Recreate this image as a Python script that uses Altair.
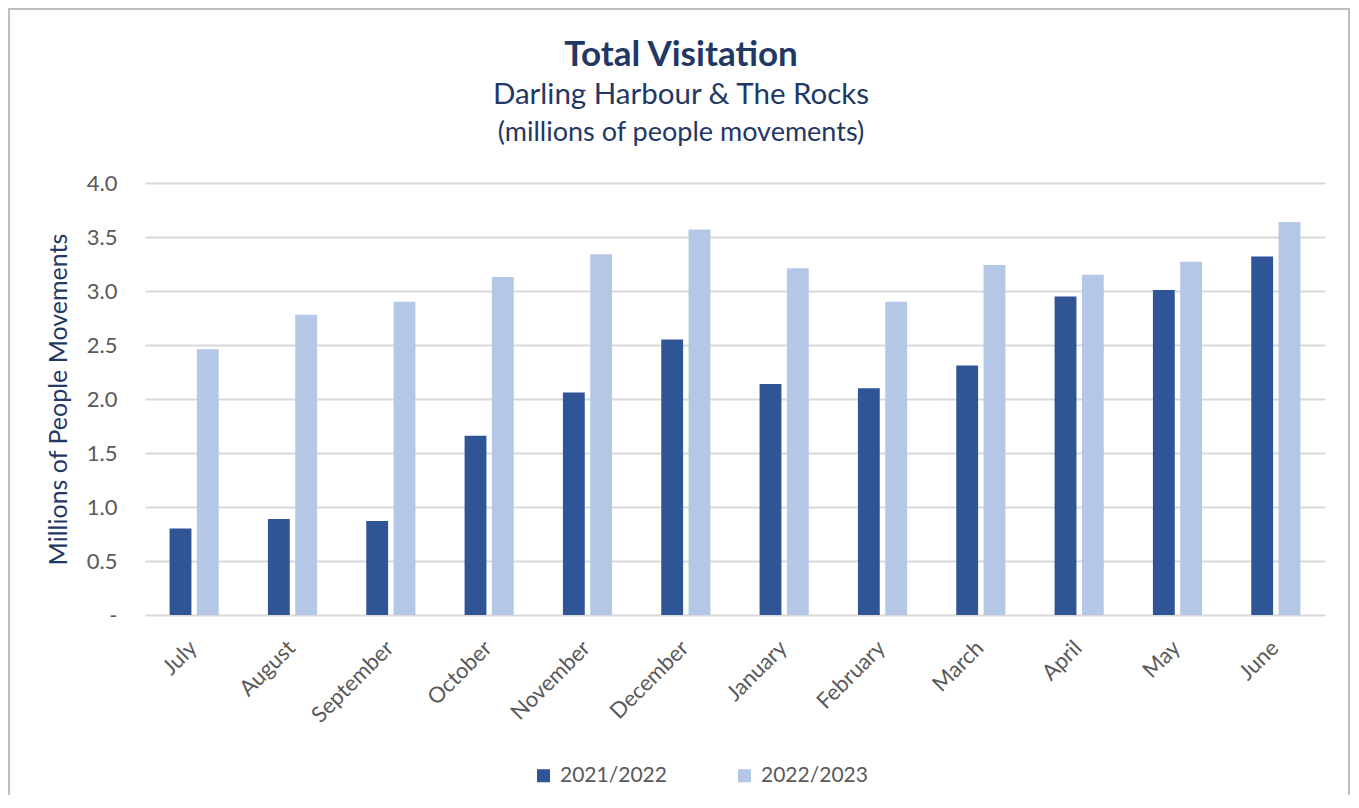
import altair as alt
import pandas as pd

months = ["July", "August", "September", "October", "November", "December",
          "January", "February", "March", "April", "May", "June"]
series = ["2021/2022", "2022/2023"]
values_2122 = [0.80, 0.89, 0.87, 1.66, 2.06, 2.55, 2.14, 2.10, 2.31, 2.95, 3.01, 3.32]
values_2223 = [2.46, 2.78, 2.90, 3.13, 3.34, 3.57, 3.21, 2.90, 3.24, 3.15, 3.27, 3.64]
y_ticks = [0, 0.5, 1.0, 1.5, 2.0, 2.5, 3.0, 3.5, 4.0]
title_text = "Total Visitation"
subtitle_lines = ["Darling Harbour & The Rocks", "(millions of people movements)"]

rows = []
for m, a, b in zip(months, values_2122, values_2223):
    rows.append({"month": m, "series": series[0], "value": a})
    rows.append({"month": m, "series": series[1], "value": b})
df = pd.DataFrame(rows)

NAVY = "#1F3864"
GREY = "#595959"

bars = alt.Chart(df).mark_bar().encode(
    x=alt.X("month:N", sort=months,
            scale=alt.Scale(paddingInner=0.5, paddingOuter=0.25),
            axis=alt.Axis(title=None, labelAngle=-45, labelFontSize=22,
                          labelColor=GREY, labelPadding=22, labelOffset=-8,
                          domain=False, ticks=False, grid=False)),
    xOffset=alt.XOffset("series:N", sort=series,
                        scale=alt.Scale(paddingInner=0.2, paddingOuter=0)),
    y=alt.Y("value:Q", scale=alt.Scale(domain=[0, 4], nice=False),
            axis=alt.Axis(title="Millions of People Movements", values=y_ticks,
                          labelExpr="datum.value == 0 ? '-' : format(datum.value, '.1f')",
                          labelFontSize=22, labelColor=GREY, labelPadding=28,
                          titleFontSize=25, titleColor=NAVY, titleFontWeight="normal",
                          titlePadding=15, domain=False, ticks=False,
                          gridColor="#D9D9D9", gridWidth=2)),
    color=alt.Color("series:N", sort=series,
                    scale=alt.Scale(domain=series, range=["#2F5597", "#B4C7E7"]),
                    legend=alt.Legend(title=None, orient="none", legendX=388, legendY=582,
                                      direction="horizontal", symbolType="square",
                                      symbolSize=169, symbolStrokeWidth=0,
                                      labelFontSize=21, labelColor=GREY,
                                      labelOffset=6, columnPadding=67)),
)

one = alt.Data(values=[{"f": 1}])

frame = alt.Chart(one).mark_rect(
    filled=False, stroke="#BFBFBF", strokeWidth=2
).encode(
    x=alt.value(-136), x2=alt.value(1204),
    y=alt.value(-174), y2=alt.value(700),
)

title_mark = alt.Chart(one).mark_text(
    text=title_text, fontSize=35, fontWeight="bold", color=NAVY,
    align="center", baseline="alphabetic"
).encode(x=alt.value(536), y=alt.value(-117))

sub1 = alt.Chart(one).mark_text(
    text=subtitle_lines[0], fontSize=29.5, color=NAVY,
    align="center", baseline="alphabetic"
).encode(x=alt.value(536), y=alt.value(-79))

sub2 = alt.Chart(one).mark_text(
    text=subtitle_lines[1], fontSize=27, color=NAVY,
    align="center", baseline="alphabetic"
).encode(x=alt.value(536), y=alt.value(-42))

chart = alt.layer(frame, title_mark, sub1, sub2, bars).properties(
    width=1180, height=432,
    autosize=alt.AutoSizeParams(type="none"),
    padding={"left": 137, "top": 175, "right": 26, "bottom": 180},
).configure(font="Lato").configure_view(stroke=None)

chart.save("out.html", embed_options={"renderer": "svg", "actions": False})
